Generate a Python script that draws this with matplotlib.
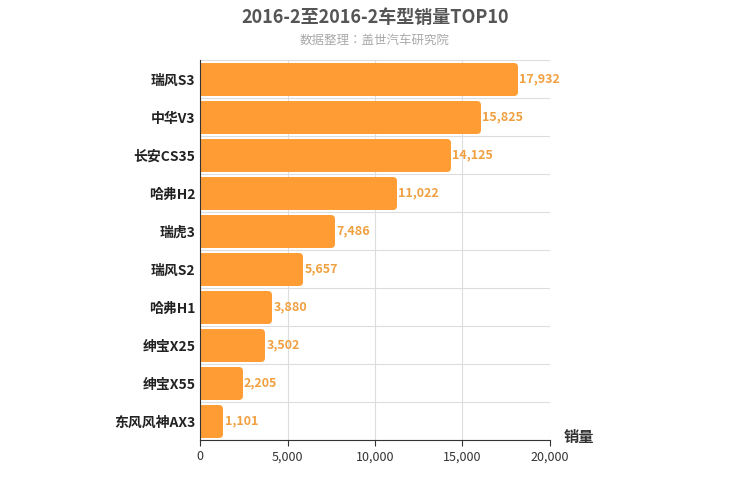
import matplotlib.pyplot as plt
from matplotlib import font_manager
import numpy as np

cjk = [f.name for f in font_manager.fontManager.ttflist if "CJK" in f.name]
plt.rcParams["font.family"] = "sans-serif"
plt.rcParams["font.sans-serif"] = ["Noto Sans CJK SC"] + cjk + ["DejaVu Sans"]

models = ["瑞风S3", "中华V3", "长安CS35", "哈弗H2", "瑞虎3", "瑞风S2", "哈弗H1", "绅宝X25", "绅宝X55", "东风风神AX3"]
sales = [17932, 15825, 14125, 11022, 7486, 5657, 3880, 3502, 2205, 1101]
xticks = [0, 5000, 10000, 15000, 20000]

color = "#ff9c33"
fig = plt.figure(figsize=(7.5, 5), dpi=100)
ax = fig.add_axes([0.267, 0.12, 0.466, 0.76])

y = np.arange(len(models))
ax.barh(y, sales, height=0.68, color=color, edgecolor=color, linewidth=5, joinstyle="round")
for yi, v in zip(y, sales):
    ax.text(v + 300, yi, f"{v:,}", va="center", ha="left", fontsize=9, color="#f0a040", fontweight="bold")

ax.set_ylim(len(models) - 0.5, -0.5)
ax.set_xlim(0, 20000)
ax.set_xticks(xticks)
ax.set_xticklabels([f"{t:,}" for t in xticks], fontsize=9, color="#333333")
ax.set_yticks(y)
ax.set_yticklabels(models, fontsize=10, color="#222222", fontweight="bold")
ax.set_yticks(np.arange(len(models) + 1) - 0.5, minor=True)
ax.grid(axis="x", color="#dddddd", linewidth=0.8)
ax.grid(axis="y", which="minor", color="#dddddd", linewidth=0.8)
ax.tick_params(axis="y", which="both", length=0)
ax.tick_params(axis="x", length=4, color="#333333")
ax.set_axisbelow(True)
for s in ["top", "right"]:
    ax.spines[s].set_visible(False)
ax.spines["left"].set_color("#333333")
ax.spines["bottom"].set_color("#333333")

fig.text(0.752, 0.11, "销量", fontsize=11, fontweight="bold", color="#333333", ha="left", va="bottom")
fig.text(0.5, 0.965, "2016-2至2016-2车型销量TOP10", ha="center", va="center", fontsize=13, fontweight="bold", color="#555555")
fig.text(0.5, 0.92, "数据整理：盖世汽车研究院", ha="center", va="center", fontsize=9, color="#aaaaaa")

fig.savefig("out.png", dpi=100)
